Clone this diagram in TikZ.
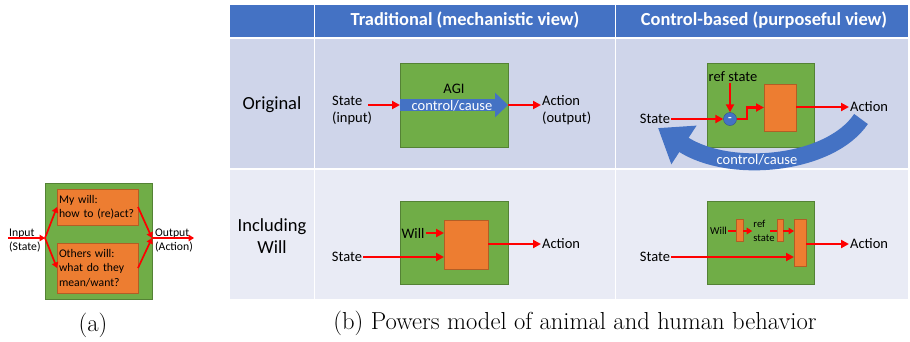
\documentclass[tikz,border=0pt]{standalone}
\usepackage{fontspec}
\newfontfamily\calibri{Carlito}
\usepackage{xcolor}
\usetikzlibrary{arrows.meta, positioning}

\definecolor{hdrblue}{HTML}{4472C4}
\definecolor{rowone}{HTML}{CFD5EA}
\definecolor{rowtwo}{HTML}{E9EBF5}
\definecolor{boxgreen}{HTML}{70AD47}
\definecolor{boxorange}{HTML}{ED7D31}

\begin{document}
\begin{tikzpicture}[x=1pt, y=-1pt,
agibox/.style={draw=boxgreen!75!black, line width=0.4pt, fill=boxgreen, inner sep=0pt, outer sep=0pt},
willbox/.style={draw=boxorange!75!black, line width=0.4pt, fill=boxorange, inner sep=0pt, outer sep=0pt},
lbl/.style={font=\calibri\fontsize{14.5}{17}\selectfont, inner sep=1pt},
small/.style={font=\calibri\fontsize{10.6}{14}\selectfont, inner sep=1pt},
alabel/.style={font=\calibri\fontsize{11.7}{14.5}\selectfont, inner sep=1pt},
head/.style={font=\calibri\bfseries\fontsize{18.4}{22}\selectfont, text=white},
rowlbl/.style={font=\calibri\fontsize{18.5}{22}\selectfont, align=center},
arr/.style={-{Triangle[length=8pt, width=8pt]}, line width=2.2pt, red},
arrs/.style={-{Triangle[length=5.5pt, width=6.5pt]}, line width=1.7pt, red},
capt/.style={font=\fontsize{24.6}{29}\selectfont}
]
\useasboundingbox (0,0) rectangle (910,341);

% table cells
\foreach \xa/\xb in {230/313.5, 315/614.5, 616/908} {
  \fill[hdrblue] (\xa,5) rectangle (\xb,37);
  \fill[rowone] (\xa,39) rectangle (\xb,168);
  \fill[rowtwo] (\xa,169.5) rectangle (\xb,299);
}
\node[head] (hdtrad) at (465,20) {Traditional (mechanistic view)};
\node[head] (hdctrl) at (764,20) {Control-based (purposeful view)};
\node[rowlbl] (rorig) at (272,105) {Original};
\node[rowlbl] (rwill) at (272,236) {Including\\Will};

% traditional, original
\node[agibox, minimum width=108pt, minimum height=84pt] (agi) at (454,105) {};
\node[lbl] (agilbl) at (454,89) {AGI};
\draw[line width=12pt, hdrblue, -{Triangle[length=13pt, width=24pt]}] (agi.west) -- (agi.east);
\node[lbl, text=white] (cause1) at (452,106) {control/cause};
\node[lbl, align=left, anchor=west] (sti) at (331,110) {State\\(input)};
\node[lbl, align=left, anchor=west] (acto) at (541,110) {Action\\(output)};
\draw[arr] ([xshift=-5pt]sti.east |- agi.west) -- (agi.west);
\draw[arr] (agi.east) -- (agi.east -| acto.west);

% control-based, original
\node[agibox, minimum width=107pt, minimum height=84pt] (ctl) at (760.5,105) {};
\node[willbox, minimum width=32pt, minimum height=47pt] (ctlout) at (780,107.5) {};
\node[circle, fill=hdrblue, draw=hdrblue!70!black, minimum size=13pt, inner sep=0pt, text=white, font=\calibri\bfseries\fontsize{12}{12}\selectfont] (cmp) at (730,119) {-};
\node[lbl] (refst) at (733,77) {ref state};
\node[lbl] (st1) at (655,119) {State};
\node[lbl, anchor=west] (act1) at (849,107) {Action};
\draw[arr] (refst.south -| cmp) -- (cmp.north);
\draw[arr] (st1) -- (cmp);
\draw[arr] (cmp.east) -- ++(10,0) |- (ctlout.west);
\draw[arr] (ctlout.east |- act1) -- (act1.west);
\draw[line width=17pt, hdrblue, -{Triangle[length=31pt, width=44pt]}] (861,119) .. controls (830,165) and (730,175) .. (658,128);
\node[lbl, text=white] (cause2) at (757,160) {control/cause};

% traditional, including will
\node[agibox, minimum width=108pt, minimum height=83pt] (gw) at (454,242.5) {};
\node[willbox, minimum width=44pt, minimum height=49pt] (ow) at (466,244.5) {};
\node[lbl] (will1) at (413,233) {Will};
\node[lbl] (st3) at (347,257) {State};
\node[lbl, anchor=west] (act3) at (541,244) {Action};
\draw[arr] (will1.east) -- (ow.west |- will1);
\draw[arr] (st3.east) -- (ow.west |- st3);
\draw[arr] (ow.east |- act3) -- (act3.west);

% control-based, including will
\node[agibox, minimum width=107pt, minimum height=83pt] (gc) at (760.5,242.5) {};
\node[willbox, minimum width=7pt, minimum height=22pt] (wb1) at (739.5,230) {};
\node[willbox, minimum width=6pt, minimum height=22pt] (wb2) at (780,230) {};
\node[willbox, minimum width=12pt, minimum height=47pt] (wb3) at (800,242.5) {};
\node[small] (will2) at (718.5,231) {Will};
\node[small, align=left] (refst2) at (764,231) {ref\\state};
\node[lbl] (st4) at (655,257) {State};
\node[lbl, anchor=west] (act4) at (849,244) {Action};
\draw[arrs, -] (will2.east) -- (wb1.west |- will2);
\draw[arrs] (wb1.east |- will2) -- (refst2.west |- will2);
\draw[arrs, -] ([xshift=-7pt]wb2.west |- will2) -- (wb2.west |- will2);
\draw[arrs] (wb2.east |- will2) -- (wb3.west |- will2);
\draw[arr] (st4.east) -- (wb3.west |- st4);
\draw[arr] (wb3.east |- act4) -- (act4.west);

% (a)
\node[agibox, minimum width=107pt, minimum height=116pt] (ga) at (98.5,241) {};
\node[willbox, alabel, text width=77pt, minimum height=36pt, align=left, inner sep=2pt] (mywill) at (97.5,207) {My will:\\how to (re)act?};
\node[willbox, alabel, text width=77pt, minimum height=50pt, align=left, inner sep=2pt] (others) at (97.5,268) {Others will:\\what do they\\mean/want?};
\node[alabel, align=left, anchor=west] (inp) at (8,240.5) {Input\\(State)};
\node[alabel, align=left, anchor=west] (outp) at (154,240.5) {Output\\(Action)};
\coordinate (jin) at (45,238);
\coordinate (jout) at (152,238);
\draw[arrs] (inp.west |- jin) -- (jin);
\draw[arrs] (jin) -- (mywill.west);
\draw[arrs] (jin) -- (others.west);
\draw[arrs] (mywill.east) -- (jout);
\draw[arrs] (others.east) -- (jout);
\draw[arrs] (jout) -- (outp.east |- jout);

\node[capt] (capa) at (93,325) {(a)};
\node[capt] (capb) at (575,323) {(b) Powers model of animal and human behavior};
\end{tikzpicture}
\end{document}
